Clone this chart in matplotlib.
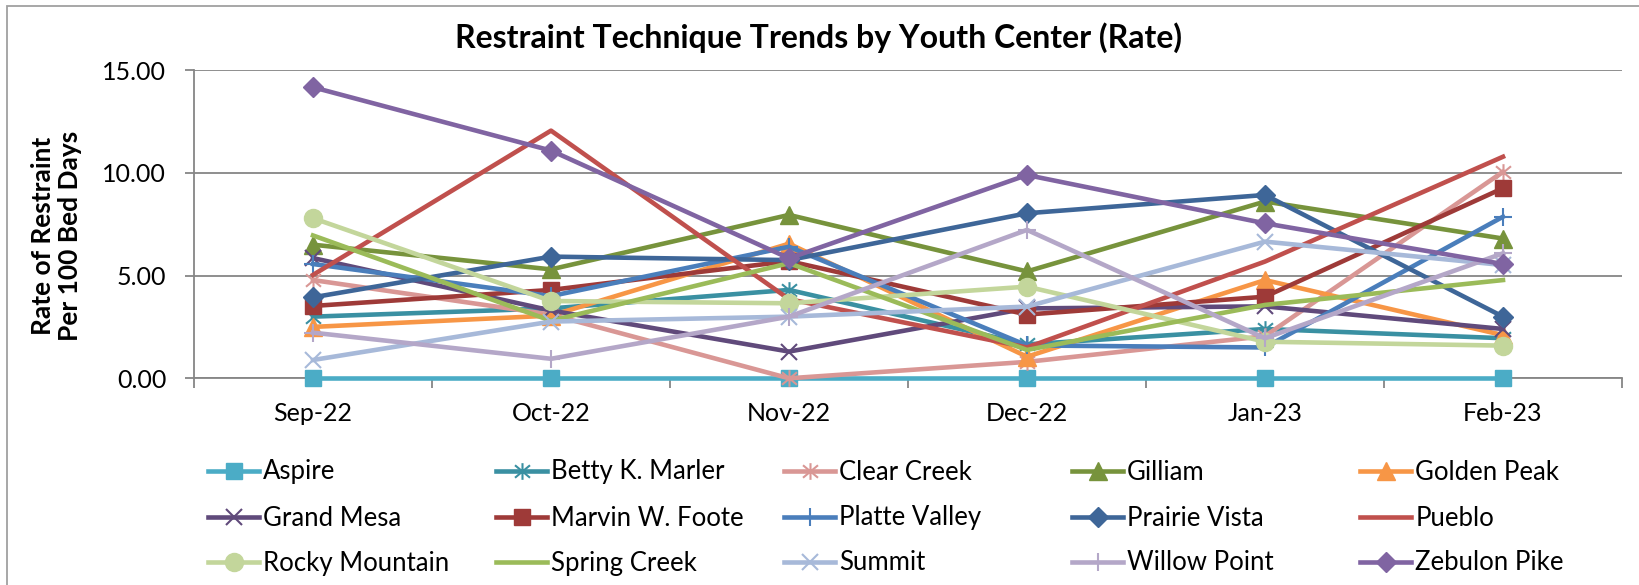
import matplotlib
matplotlib.use('Agg')
import matplotlib.pyplot as plt
from matplotlib.path import Path
from matplotlib.patches import Rectangle

plt.rcParams['font.family'] = ['Lato', 'DejaVu Sans']

# ---- data ----
months = ['Sep-22', 'Oct-22', 'Nov-22', 'Dec-22', 'Jan-23', 'Feb-23']

centers = ['Aspire', 'Betty K. Marler', 'Clear Creek', 'Gilliam', 'Golden Peak',
           'Grand Mesa', 'Marvin W. Foote', 'Platte Valley', 'Prairie Vista', 'Pueblo',
           'Rocky Mountain', 'Spring Creek', 'Summit', 'Willow Point', 'Zebulon Pike']

aspire = [0.00, 0.00, 0.00, 0.00, 0.00, 0.00]
betty_k_marler = [3.00, 3.40, 4.30, 1.65, 2.40, 1.95]
clear_creek = [4.78, 3.10, 0.00, 0.80, 2.05, 10.05]
gilliam = [6.50, 5.30, 7.95, 5.20, 8.60, 6.80]
golden_peak = [2.50, 3.05, 6.55, 1.05, 4.78, 2.10]
grand_mesa = [5.85, 3.30, 1.30, 3.40, 3.50, 2.40]
marvin_w_foote = [3.52, 4.30, 5.70, 3.10, 3.97, 9.25]
platte_valley = [5.56, 4.00, 6.40, 1.60, 1.50, 7.86]
prairie_vista = [3.94, 5.92, 5.75, 8.03, 8.92, 3.00]
pueblo = [5.03, 12.05, 3.85, 1.50, 5.68, 10.78]
rocky_mountain = [7.79, 3.76, 3.65, 4.46, 1.78, 1.59]
spring_creek = [6.95, 2.80, 5.60, 1.38, 3.57, 4.78]
summit = [0.89, 2.76, 3.00, 3.49, 6.65, 5.51]
willow_point = [2.22, 0.95, 3.00, 7.22, 1.95, 6.08]
zebulon_pike = [14.16, 11.08, 5.84, 9.89, 7.54, 5.56]

series = [aspire, betty_k_marler, clear_creek, gilliam, golden_peak,
          grand_mesa, marvin_w_foote, platte_valley, prairie_vista, pueblo,
          rocky_mountain, spring_creek, summit, willow_point, zebulon_pike]

# ---- styling ----
# excel style asterisk: vertical bar + x
star = Path([(0, -1), (0, 1), (-0.9, -0.75), (0.9, 0.75), (-0.9, 0.75), (0.9, -0.75)],
            [Path.MOVETO, Path.LINETO] * 3)

colors = ['#4BACC6', '#3A90A2', '#D99795', '#77933C', '#F79646',
          '#604A7B', '#9E3A38', '#4A7EBB', '#3E6698', '#C0504D',
          '#C3D69B', '#9BBB59', '#A7B9D9', '#B4A7C8', '#8064A2']
markers = ['s', star, star, '^', '^', 'x', 's', '+', 'D', None,
           'o', None, 'x', '+', 'D']
msizes = [12, 12, 12, 12.5, 12.5, 12, 12, 13, 10, 0, 13, 0, 12, 13, 10]

W, H = 1640, 585
fig = plt.figure(figsize=(16.4, 5.85), dpi=100)
ax = fig.add_axes([194 / W, 1 - 378.3 / H, 1428 / W, 308.3 / H])

x = list(range(len(months)))
handles = []
for vals, c, m, ms in zip(series, colors, markers, msizes):
    filled = m in ('s', '^', 'D', 'o')
    ln, = ax.plot(x, vals, color=c, lw=3.3, marker=m, ms=ms,
                  mfc=c if filled else 'none', mec=c,
                  mew=1.0 if filled else 1.5, clip_on=False, zorder=3)
    handles.append(ln)

ax.set_xlim(-0.5, len(months) - 0.5)
ax.set_ylim(0, 15)
ax.set_yticks([0, 5, 10, 15])
ax.set_yticklabels(['%.2f' % v for v in [0, 5, 10, 15]])
ax.set_xticks(x)
ax.set_xticklabels(months)
ax.set_xticks([i - 0.5 for i in range(len(months) + 1)], minor=True)

grey = '#868686'
ax.yaxis.grid(True, color=grey, lw=1.3)
ax.set_axisbelow(True)
for s in ['top', 'right']:
    ax.spines[s].set_visible(False)
for s in ['left', 'bottom']:
    ax.spines[s].set_color(grey)
    ax.spines[s].set_linewidth(1.3)
ax.tick_params(axis='y', length=6.5, width=1.3, color=grey, pad=13.5, labelsize=18)
ax.tick_params(axis='x', which='major', length=0, pad=17, labelsize=18)
ax.tick_params(axis='x', which='minor', length=7, width=1.3, color=grey)

fig.text(819 / W, 1 - 48 / H, 'Restraint Technique Trends by Youth Center (Rate)',
         ha='center', va='baseline', fontsize=23, fontweight='bold')
fig.text(56.5 / W, 1 - 236 / H, 'Rate of Restraint\nPer 100 Bed Days', rotation=90,
         ha='center', va='center', fontsize=19, fontweight='bold',
         multialignment='center', linespacing=1.15)

# legend: 5 evenly spaced columns x 3 rows, like the excel legend
col_x = [208, 496, 784, 1072, 1360]
row_y = [472, 518, 563]
for i, (h, name) in enumerate(zip(handles, centers)):
    r, c = divmod(i, 5)
    fig.legend([h], [name], loc='center left',
               bbox_to_anchor=(col_x[c] / W, 1 - row_y[r] / H),
               frameon=False, borderpad=0, borderaxespad=0,
               handlelength=2.0, handletextpad=0.15, fontsize=18.5)

# chart border
fig.patches.append(Rectangle((7 / W, -0.05), 1.0, 1.05 - 6 / H, transform=fig.transFigure,
                             fill=False, ec='#a0a0a0', lw=1.3))

fig.savefig('out.png', dpi=100)
